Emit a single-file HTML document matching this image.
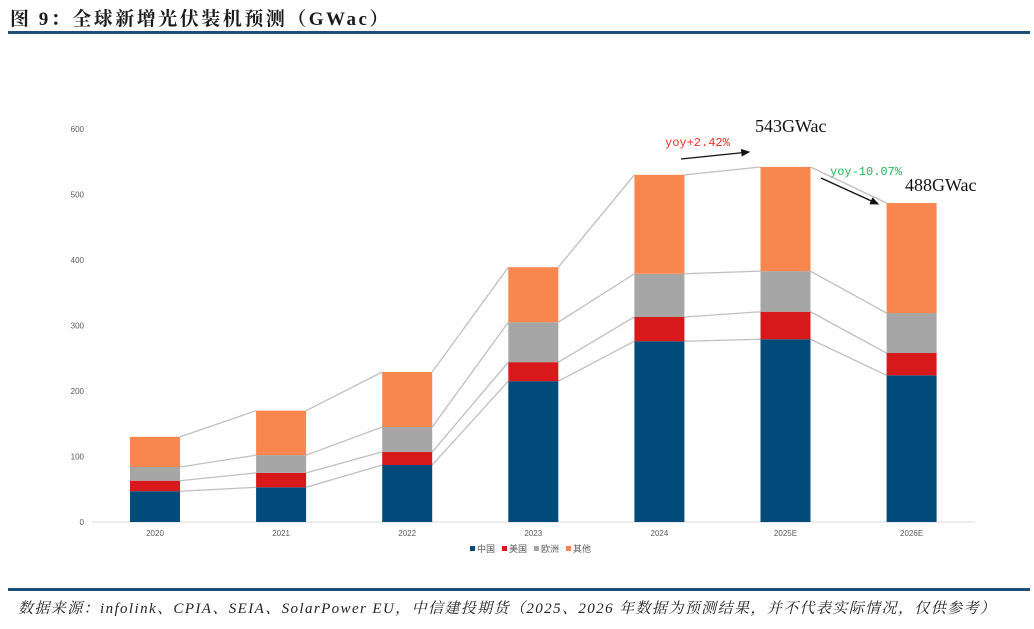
<!DOCTYPE html>
<html><head><meta charset="utf-8"><style>
body{margin:0;width:1034px;height:629px;background:#fff;overflow:hidden;font-family:"Liberation Sans","Noto Sans CJK SC",sans-serif;}
#title{position:absolute;left:10px;top:4px;font-size:19px;font-weight:bold;color:#1a1a1a;letter-spacing:2.5px;font-family:"Liberation Serif","Noto Serif CJK SC",serif;}
#rule1{position:absolute;left:8px;top:31px;width:1022px;height:3px;background:#1f4e79;}
#rule2{position:absolute;left:8px;top:588px;width:1022px;height:3px;background:#1f4e79;}
#src{position:absolute;left:18px;top:597px;font-size:15px;font-style:italic;color:#222;letter-spacing:1.4px;white-space:nowrap;font-family:"Liberation Serif","Noto Serif CJK SC",serif;}
svg{position:absolute;left:0;top:0;}
</style></head><body>
<div id="title">图 9：全球新增光伏装机预测（GWac）</div>
<div id="rule1"></div>
<svg id="chart" width="1034" height="629"></svg>
<div id="rule2"></div>
<div id="src">数据来源：infolink、CPIA、SEIA、SolarPower EU，中信建投期货（2025、2026 年数据为预测结果，并不代表实际情况，仅供参考）</div>
<script>
const categories=["2020","2021","2022","2023","2024","2025E","2026E"];
const china=[47,53,87,215,276,279,224];
const us=[16,22,20,29,37,42,34];
const europe=[21,27,38,61,66,62,61];
const other=[46,68,84,84,151,159,168];
const seriesNames=["中国","美国","欧洲","其他"];
const yTicks=[0,100,200,300,400,500,600];
const colors=["#004b7a","#d7191c","#a6a6a6","#f9864e"];
const NS="http://www.w3.org/2000/svg";
const svg=document.getElementById('chart');
const y0=522,yScale=393/600;
const Y=v=>y0-v*yScale;
const X=i=>155+i*126.1;
const bw=50;
function mk(t,a){const e=document.createElementNS(NS,t);for(const k in a)e.setAttribute(k,a[k]);svg.appendChild(e);return e;}
yTicks.forEach(t=>{const e=mk('text',{x:84,y:Y(t)+3,'font-size':8,'text-anchor':'end',fill:'#595959'});e.textContent=t;

});
const ax=mk('line',{x1:92,x2:975,y1:y0,y2:y0,stroke:'#d9d9d9','stroke-width':1});


const series=[china,us,europe,other];
const cum=categories.map((c,i)=>{let s=0;return series.map(a=>s+=a[i]);});
for(let i=0;i<categories.length-1;i++){for(let k=0;k<4;k++){const l=mk('line',{x1:X(i)+bw/2,y1:Y(cum[i][k]),x2:X(i+1)-bw/2,y2:Y(cum[i+1][k]),stroke:'#bfbfbf','stroke-width':1.3});

}}
categories.forEach((c,i)=>{let base=0;series.forEach((a,k)=>{const r=mk('rect',{x:X(i)-bw/2,y:Y(base+a[i]),width:bw,height:a[i]*yScale,fill:colors[k]});


base+=a[i];});
const t=mk('text',{x:X(i),y:536,'font-size':8,'text-anchor':'middle',fill:'#595959'});t.textContent=c;

});
let lx=470;seriesNames.forEach((n,k)=>{mk('rect',{x:lx,y:546,width:5,height:5,fill:colors[k]});const t=mk('text',{x:lx+7,y:552,'font-size':9,fill:'#595959'});t.textContent=n;

lx+=32;});
const ser="Liberation Serif, Noto Serif CJK SC, serif";
const mono="Liberation Mono, monospace";
function txt(s,x,y,sz,f,name,ff){const t=mk('text',{x:x,y:y,'font-size':sz,fill:f,'font-family':ff||ser});t.textContent=s;

}
txt('543GWac',755,132,18,'#111','annotation-2025');
txt('488GWac',905,191,18,'#111','annotation-2026');
txt('yoy+2.42%',665,146,12,'#ff2a2a','yoy-2025',mono);
txt('yoy-10.07%',830,175,12,'#22b85a','yoy-2026',mono);
mk('defs',{}).innerHTML='<marker id="ah" markerWidth="8" markerHeight="8" refX="6" refY="3" orient="auto"><path d="M0,0 L7,3 L0,6z" fill="#111"/></marker>';
const a1=mk('line',{x1:681,y1:159,x2:749,y2:152,stroke:'#111','stroke-width':1.3,'marker-end':'url(#ah)'});


const a2=mk('line',{x1:821,y1:178,x2:878,y2:204,stroke:'#111','stroke-width':1.3,'marker-end':'url(#ah)'});


</script>
</body></html>
